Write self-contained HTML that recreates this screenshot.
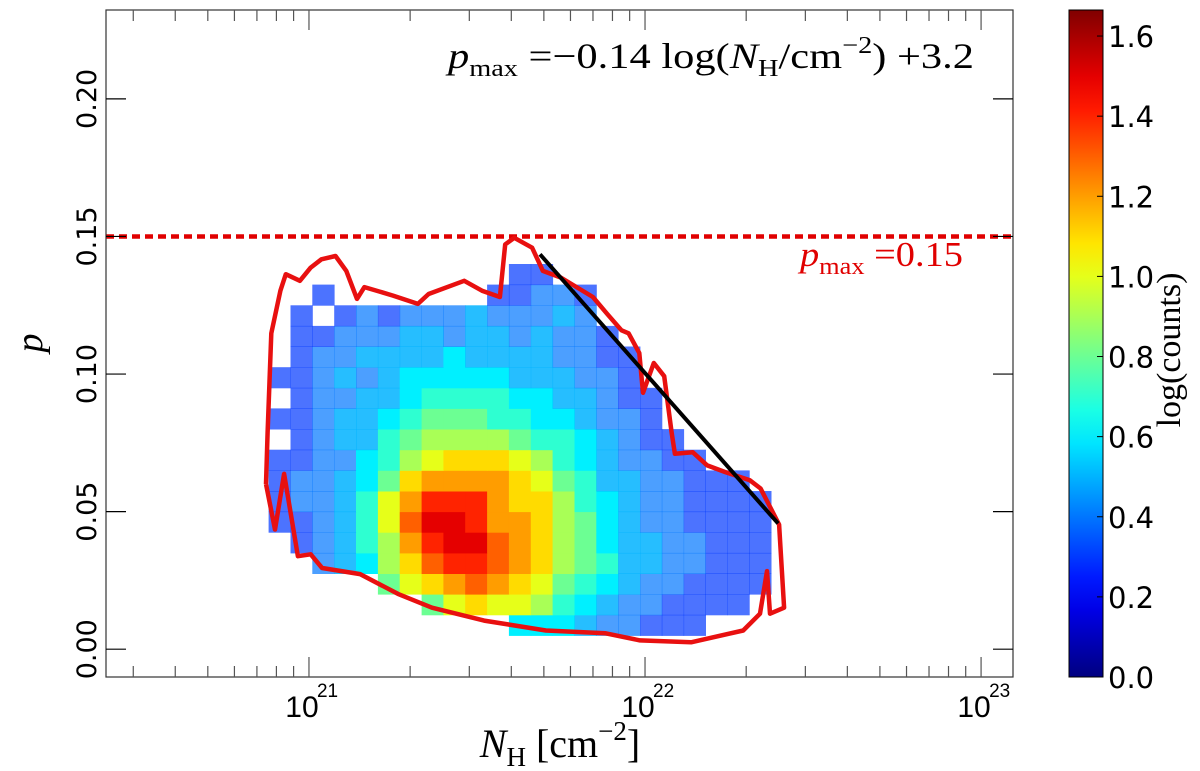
<!DOCTYPE html>
<html><head><meta charset="utf-8"><style>
html,body{margin:0;padding:0;background:#fff;}
svg{display:block;}
</style></head><body>
<svg id="chart" width="1200" height="771" viewBox="0 0 1200 771" xmlns="http://www.w3.org/2000/svg">
<rect x="0" y="0" width="1200" height="771" fill="#fff"/>
<g id="heat"></g>
<g id="overlay"></g>
<g id="axes"></g>
<g id="cbar"></g>
<text x="448" y="68" textLength="526" lengthAdjust="spacingAndGlyphs" font-family="Liberation Serif, serif" font-size="36" fill="#000"><tspan font-style="italic">p</tspan><tspan font-size="24" dy="8">max</tspan><tspan dy="-8"> =−0.14 log(</tspan><tspan font-style="italic">N</tspan><tspan font-size="24" dy="8">H</tspan><tspan dy="-8">/cm</tspan><tspan font-size="24" dy="-15">−2</tspan><tspan dy="15">) +3.2</tspan></text>
<text x="800" y="266" textLength="163" lengthAdjust="spacingAndGlyphs" font-family="Liberation Serif, serif" font-size="35" fill="#e00000"><tspan font-style="italic">p</tspan><tspan font-size="24" dy="8">max</tspan><tspan dy="-8"> =0.15</tspan></text>
<text x="560" y="757" text-anchor="middle" font-family="Liberation Serif, serif" font-size="40" fill="#000"><tspan font-style="italic">N</tspan><tspan font-size="27" dy="9">H</tspan><tspan dy="-9"> [cm</tspan><tspan font-size="27" dy="-17">−2</tspan><tspan dy="17">]</tspan></text>
<text transform="translate(42,343) rotate(-90)" text-anchor="middle" font-family="Liberation Serif, serif" font-style="italic" font-size="38" fill="#000">p</text>
<text transform="translate(1180,350) rotate(-90)" text-anchor="middle" font-family="Liberation Serif, serif" font-size="34" fill="#000">log(counts)</text>
</svg>
<script>
// ---- data ----
const xDomain = [20.396, 23.095];      // log10 N_H
const yDomain = [-0.0101, 0.2323];     // p
const cDomain = [0, 1.665];            // log(counts)
const binLogN0 = 20.88, binLogNStep = 0.065;
const binP0 = 0.005, binPStep = 0.0075;
// rows from p bin 0 (bottom) upward; values = log(counts)*10
const heatRows = [
[0,0,0,0,0,0,0,0,0,0,0,6,6,6,5,4,4,3,3,3,0,0,0,0],
[0,0,0,0,0,0,0,8,10,11,10,10,9,7,6,5,4,4,3,3,3,3,0,0],
[0,0,0,0,0,8,10,11,12,13,12,11,10,8,7,6,5,4,4,3,3,3,3,0],
[0,0,4,5,6,9,11,13,14,14,13,12,11,9,8,7,5,5,4,4,3,3,3,0],
[0,3,4,5,7,9,12,14,15,15,13,12,11,9,8,6,5,5,4,4,3,3,3,0],
[3,3,4,5,7,10,13,15,15,14,12,12,11,9,8,6,5,4,4,3,3,3,3,0],
[3,4,4,5,7,10,12,14,14,14,12,11,11,9,7,6,5,4,4,3,3,3,3,0],
[3,4,4,5,6,8,11,12,12,12,12,11,10,8,7,5,5,4,4,3,3,3,0,0],
[3,3,4,4,6,7,9,10,11,11,11,10,9,7,6,5,4,4,3,3,0,0,0,0],
[0,3,4,5,5,7,8,9,9,9,9,8,7,7,6,5,4,3,3,0,0,0,0,0],
[3,3,4,5,5,6,7,8,8,8,7,7,6,6,5,4,4,3,0,0,0,0,0,0],
[0,3,4,4,5,5,6,7,7,7,7,6,6,5,5,4,3,3,0,0,0,0,0,0],
[3,3,4,5,4,5,6,6,6,6,6,5,5,5,4,4,3,0,0,0,0,0,0,0],
[0,3,4,4,5,5,5,5,6,5,5,5,5,4,4,3,3,0,0,0,0,0,0,0],
[0,3,3,4,4,4,5,5,4,5,5,4,5,4,4,3,0,0,0,0,0,0,0,0],
[0,3,0,3,4,3,4,4,4,5,4,4,4,5,4,0,0,0,0,0,0,0,0,0],
[0,0,3,0,0,0,0,0,0,0,3,3,4,4,3,0,0,0,0,0,0,0,0,0],
[0,0,0,0,0,0,0,0,0,0,0,3,3,0,0,0,0,0,0,0,0,0,0,0]
];
const contourLogN = [20.872,20.899,20.926,20.967,21.005,21.039,21.152,21.265,21.366,21.521,21.705,21.881,21.985,22.137,22.292,22.342,22.363,22.372,22.414,22.399,22.344,22.312,22.238,22.185,22.142,22.089,22.079,22.057,22.026,21.994,21.983,21.951,21.930,21.887,21.845,21.749,21.696,21.664,21.611,21.584,21.568,21.515,21.462,21.356,21.324,21.250,21.165,21.143,21.111,21.079,21.037,21.005,20.973,20.931,20.915,20.888,20.877,20.872];
const contourP = [0.0600,0.0435,0.0637,0.0338,0.0345,0.0295,0.0273,0.0201,0.0151,0.0104,0.0068,0.0058,0.0032,0.0025,0.0068,0.0129,0.0284,0.0129,0.0151,0.0453,0.0584,0.0614,0.0644,0.0668,0.0716,0.0710,0.0788,0.0992,0.1040,0.0932,0.1076,0.1148,0.1159,0.1219,0.1280,0.1351,0.1375,0.1459,0.1495,0.1471,0.1280,0.1303,0.1339,0.1291,0.1255,0.1285,0.1316,0.1273,0.1375,0.1429,0.1417,0.1387,0.1339,0.1363,0.1303,0.1148,0.0788,0.0600];
const fitLogN = [21.6875, 22.396];
const fitP = [0.1435, 0.0457];
const pmaxLevel = [0.15];
const yTicks = [0.00, 0.05, 0.10, 0.15, 0.20];
const yTickLabels = ["0.00","0.05","0.10","0.15","0.20"];
const xDecades = [21, 22, 23];
const xDecadeLabels = ["21","22","23"];
const cTicks = [0.0,0.2,0.4,0.6,0.8,1.0,1.2,1.4,1.6];
const cTickLabels = ["0.0","0.2","0.4","0.6","0.8","1.0","1.2","1.4","1.6"];

// ---- layout ----
const L=106,R=1013,T=10,B=677;
const CL=1069,CR=1103;
const NS="http://www.w3.org/2000/svg";
function sx(v){return L+(v-xDomain[0])/(xDomain[1]-xDomain[0])*(R-L);}
function sy(v){return B-(v-yDomain[0])/(yDomain[1]-yDomain[0])*(B-T);}
function sc(v){return B-(v-cDomain[0])/(cDomain[1]-cDomain[0])*(B-T);}
function mk(tag,attrs,parent){const e=document.createElementNS(NS,tag);for(const k in attrs)e.setAttribute(k,attrs[k]);parent.appendChild(e);return e;}
function jet(t){t=Math.max(0,Math.min(1,t));
 const f=(x)=>Math.max(0,Math.min(1,x));
 const r=f(1.5-Math.abs(4*t-3)),g=f(1.5-Math.abs(4*t-2)),b=f(1.5-Math.abs(4*t-1));
 return `rgb(${Math.round(r*255)},${Math.round(g*255)},${Math.round(b*255)})`;}

const heat=document.getElementById('heat');
heatRows.forEach((row,j)=>{row.forEach((v,i)=>{
 if(v<=0)return;
 const val=v/10;
 const x0=sx(binLogN0+i*binLogNStep),x1=sx(binLogN0+(i+1)*binLogNStep);
 const y0=sy(binP0+(j+1)*binPStep),y1=sy(binP0+j*binPStep);
 const r=mk('rect',{x:x0.toFixed(1),y:y0.toFixed(1),width:(x1-x0+0.5).toFixed(1),height:(y1-y0+0.5).toFixed(1),fill:jet(val/cDomain[1]),'fill-opacity':val<0.45?0.7:(val<0.6?0.85:1)},heat);
 
 
});});

const ov=document.getElementById('overlay');
const dl=mk('line',{x1:L,x2:R,y1:sy(pmaxLevel[0]),y2:sy(pmaxLevel[0]),stroke:'#e00000','stroke-width':4.5,'stroke-dasharray':'8 5'},ov);


const pts=contourLogN.map((v,i)=>sx(v).toFixed(1)+','+sy(contourP[i]).toFixed(1)).join(' ');
const cp=mk('polyline',{points:pts,fill:'none',stroke:'#e81010','stroke-width':4.5,'stroke-linejoin':'round'},ov);


const fl=mk('line',{x1:sx(fitLogN[0]),y1:sy(fitP[0]),x2:sx(fitLogN[1]),y2:sy(fitP[1]),stroke:'#000','stroke-width':4},ov);



const ax=document.getElementById('axes');
mk('rect',{x:L,y:T,width:R-L,height:B-T,fill:'none',stroke:'#333','stroke-width':1.2},ax);
yTicks.forEach((v,i)=>{const y=sy(v);
 mk('line',{x1:L,x2:L+20,y1:y,y2:y,stroke:'#000','stroke-width':1.2},ax);
 mk('line',{x1:R-20,x2:R,y1:y,y2:y,stroke:'#000','stroke-width':1.2},ax);
 const t=mk('text',{transform:`translate(96,${y}) rotate(-90)`,'text-anchor':'middle','font-family':'DejaVu Sans, sans-serif','font-size':27,fill:'#000'},ax);
 t.textContent=yTickLabels[i];
 
 
});
for(let d=20;d<=23;d++){for(let m=1;m<=9;m++){
 const lv=d+Math.log10(m); if(lv<xDomain[0]||lv>xDomain[1])continue;
 const x=sx(lv),len=m===1?20:11;
 mk('line',{x1:x,x2:x,y1:B,y2:B-len,stroke:'#555','stroke-width':1.2},ax);
 mk('line',{x1:x,x2:x,y1:T,y2:T+len,stroke:'#555','stroke-width':1.2},ax);
}}
xDecades.forEach((d,i)=>{const x=sx(d);
 const t=mk('text',{x:x-7,y:717,'text-anchor':'middle','font-family':'Liberation Sans, sans-serif','font-size':30,fill:'#000'},ax);
 t.textContent='10';
 
 
 const s=mk('text',{x:x+8,y:697,'text-anchor':'start','font-family':'Liberation Sans, sans-serif','font-size':19,fill:'#000'},ax);
 s.textContent=xDecadeLabels[i];
 
 
});

const cb=document.getElementById('cbar');
const defs=mk('defs',{},cb);
const grad=mk('linearGradient',{id:'jetg',x1:0,y1:1,x2:0,y2:0},defs);
for(let k=0;k<=20;k++){mk('stop',{offset:k/20,'stop-color':jet(k/20)},grad);}
mk('rect',{x:CL,y:T,width:CR-CL,height:B-T,fill:'url(#jetg)',stroke:'#000','stroke-width':1},cb);
cTicks.forEach((v,i)=>{const y=sc(v);
 mk('line',{x1:CR-6,x2:CR,y1:y,y2:y,stroke:'#000','stroke-width':1},cb);
 const t=mk('text',{x:CR+5,y:y+11,'font-family':'DejaVu Sans, sans-serif','font-size':29,fill:'#000'},cb);
 t.textContent=cTickLabels[i];
 
 
});
</script>
</body></html>
